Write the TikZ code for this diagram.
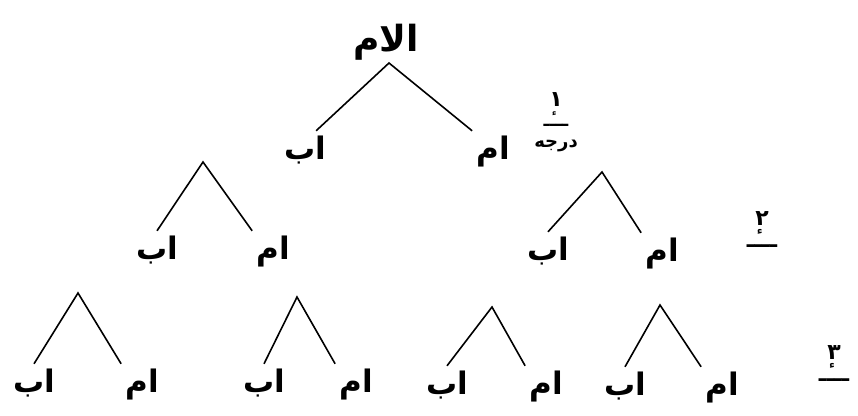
\documentclass[tikz,border=0pt]{standalone}
\usepackage{fontspec}
\newfontfamily\urdu[Script=Arabic]{DejaVu Sans}
\TeXXeTstate=1
\newcommand{\ur}[1]{\beginR#1\endR}

\begin{document}
\begin{tikzpicture}[x=1pt,y=-1pt,
  rishta/.style={font=\urdu\bfseries\fontsize{31}{34}\selectfont,inner sep=4pt,text height=24pt,text depth=6pt},
  darja/.style={font=\urdu\bfseries\fontsize{18}{19}\selectfont,inner sep=0pt,align=center},
  shakh/.style={line width=1.6pt}]
\useasboundingbox (0,0) rectangle (858,415);
\newcommand{\jora}[4]{
  \coordinate (t#2) at #1;
  \node[rishta] (b#2) at #3 {\ur{اب}};
  \node[rishta] (m#2) at #4 {\ur{ام}};
  \draw[shakh] (b#2.north) -- (t#2) -- (m#2.north west);
}

% ---------- darja 1 ----------
\node[rishta,font=\urdu\bfseries\fontsize{36}{40}\selectfont] (umm) at (386,42) {\ur{الام}};
\coordinate (t0) at (389,63);
\node[rishta] (b1) at (305,150) {\ur{اب}};
\node[rishta] (m1) at (493,150) {\ur{ام}};
\draw[shakh] (b1.60) -- (t0) -- (m1.north west);
\node[darja] (d1) at (556,122) {{\fontsize{22}{22}\selectfont\ur{۱}}\\[1pt]\ur{ـــٔـ}\\[2pt]\ur{درجه}};

% ---------- darja 2 ----------
\jora{(203,162)}{2a}{(157,250)}{(273,250)}
\jora{(602,172)}{2b}{(548,251)}{(662,252)}
\node[darja,font=\urdu\bfseries\fontsize{22}{24}\selectfont] (d2) at (762,230) {\ur{۲}\\[-2pt]\ur{ـــٔـ}};

% ---------- darja 3 ----------
\jora{(78,293)}{3a}{(34,383)}{(142,383)}
\jora{(297,297)}{3b}{(264,383)}{(356,383)}
\jora{(492,307)}{3c}{(447,385)}{(546,385)}
\jora{(660,305)}{3d}{(625,386)}{(722,386)}
\node[darja,font=\urdu\bfseries\fontsize{22}{24}\selectfont] (d3) at (834,364) {\ur{۳}\\[-2pt]\ur{ـــٔـ}};

\end{tikzpicture}
\end{document}
